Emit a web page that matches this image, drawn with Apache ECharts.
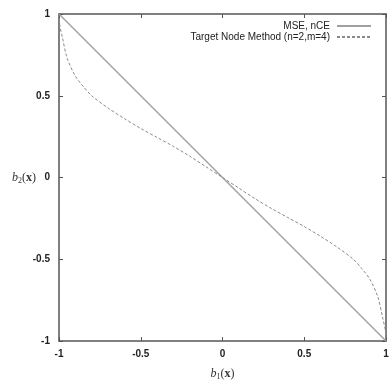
<!DOCTYPE html>
<html>
<head>
<meta charset="utf-8">
<script src="https://cdn.jsdelivr.net/npm/echarts@6/dist/echarts.min.js"></script>
<style>
  html, body { margin: 0; padding: 0; background: #fff; }
  #chart { width: 389px; height: 383px; }
</style>
</head>
<body>
<div id="chart"></div>
<script>
// values
const axisTicks = [-1, -0.5, 0, 0.5, 1];
const mseX = [-1, 1];
const mseY = [1, -1];
const targetX = [-1, -0.995, -0.98, -0.95, -0.9, -0.85, -0.8, -0.7, -0.6, -0.5, -0.4, -0.3, -0.2, -0.1, 0,
                 0.1, 0.2, 0.3, 0.4, 0.5, 0.6, 0.7, 0.8, 0.85, 0.9, 0.95, 0.98, 0.995, 1];
const targetY = [1, 0.93, 0.86, 0.73, 0.62, 0.555, 0.5, 0.425, 0.36, 0.3, 0.245, 0.19, 0.13, 0.065, 0,
                 -0.065, -0.13, -0.19, -0.245, -0.3, -0.36, -0.425, -0.5, -0.555, -0.62, -0.73, -0.86, -0.93, -1];

const frame = "#555";
const font = "Liberation Sans";

const chart = echarts.init(document.getElementById("chart"), null, { renderer: "canvas" });

const pair = (xs, ys) => xs.map((x, i) => [x, ys[i]]);

const baseAxis = {
  type: "value",
  min: -1,
  max: 1,
  interval: 0.5,
  axisLine: { show: true, onZero: false, lineStyle: { color: frame, width: 1.5 } },
  axisTick: { show: true, inside: true, length: 4, lineStyle: { color: frame, width: 1 } },
  splitLine: { show: false },
};

const nameRich = {
  i: { fontFamily: "Liberation Serif", fontStyle: "italic", fontSize: 12, color: "#333" },
  s: { fontFamily: "Liberation Serif", fontSize: 8, color: "#333", verticalAlign: "bottom", padding: [6, 0, 0, 0] },
  n: { fontFamily: "Liberation Serif", fontSize: 12, color: "#333" },
  b: { fontFamily: "Liberation Serif", fontWeight: "bold", fontSize: 12, color: "#333" },
};

chart.setOption({
  animation: false,
  grid: { left: 59, right: 3, top: 14, bottom: 42, outerBoundsMode: "none" },
  legend: {
    right: 12,
    top: 16,
    orient: "vertical",
    align: "right",
    itemWidth: 34,
    itemHeight: 6,
    itemGap: 1,
    itemStyle: { opacity: 0 },
    textStyle: { fontFamily: font, fontSize: 10, color: "#222", padding: [0, 2, 0, 0] },
    data: ["MSE, nCE", "Target Node Method (n=2,m=4)"],
  },
  xAxis: [
    {
      ...baseAxis,
      position: "bottom",
      axisLabel: {
        fontFamily: font, fontSize: 10, fontWeight: "bold", color: "#222", margin: 8,
        formatter: (v) => (axisTicks.includes(v) ? String(v) : ""),
      },
      name: "{i|b}{s|1}{n|(}{b|x}{n|)}",
      nameLocation: "middle",
      nameGap: 26,
      nameMoveOverlap: false,
      nameTextStyle: { rich: nameRich },
    },
    { ...baseAxis, position: "top", axisLabel: { show: false } },
  ],
  yAxis: [
    {
      ...baseAxis,
      position: "left",
      axisLabel: {
        fontFamily: font, fontSize: 10, fontWeight: "bold", color: "#222", margin: 9,
        formatter: (v) => (axisTicks.includes(v) ? String(v) : ""),
      },
      name: "{i|b}{s|2}{n|(}{b|x}{n|)}",
      nameLocation: "middle",
      nameRotate: 0,
      nameGap: 23,
      nameMoveOverlap: false,
      nameTextStyle: { rich: nameRich, align: "right" },
    },
    { ...baseAxis, position: "right", axisLabel: { show: false } },
  ],
  series: [
    {
      name: "MSE, nCE",
      type: "line",
      data: pair(mseX, mseY),
      symbol: "none",
      lineStyle: { color: "#a0a0a0", width: 1.5 },
      itemStyle: { color: "#a0a0a0" },
    },
    {
      name: "Target Node Method (n=2,m=4)",
      type: "line",
      data: pair(targetX, targetY),
      smooth: 0.3,
      symbol: "none",
      lineStyle: { color: "#8a8a8a", width: 1, type: [3, 2] },
      itemStyle: { color: "#8a8a8a" },
    },
  ],
});
</script>
</body>
</html>
